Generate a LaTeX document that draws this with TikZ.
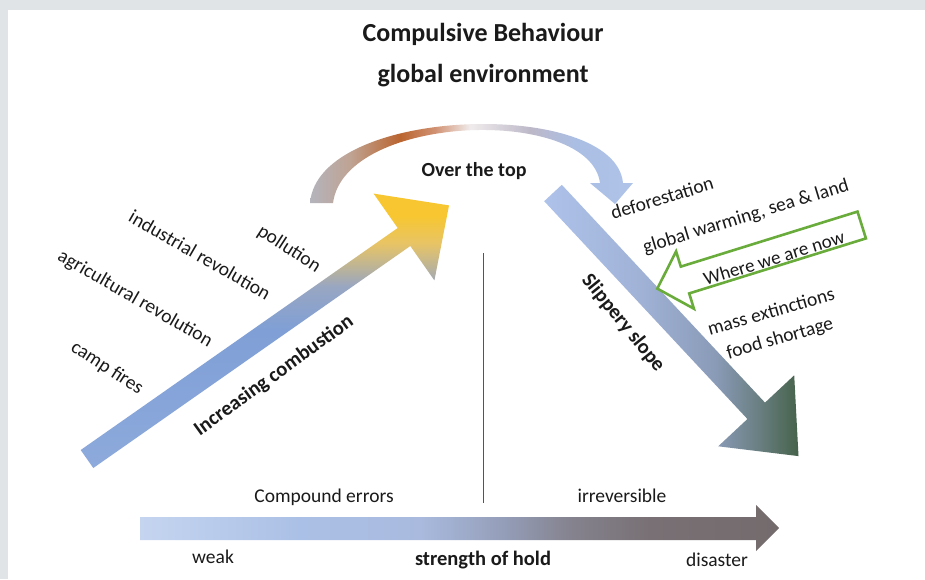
\documentclass[tikz,border=0pt]{standalone}
\usepackage{fontspec}
\setmainfont{Carlito}
\definecolor{bggray}{HTML}{E0E4E6}
\definecolor{txt}{HTML}{1A1A1A}
\definecolor{grn}{HTML}{6AAC3C}
\definecolor{vline}{HTML}{555555}
% rising arrow colours
\definecolor{rA}{HTML}{8EAADC}
\definecolor{rB}{HTML}{7F9FD6}
\definecolor{rC}{HTML}{98A6C2}
\definecolor{rD}{HTML}{E8C464}
\definecolor{rE}{HTML}{F7C630}
% arc colours
\definecolor{aA}{HTML}{B4B4BC}
\definecolor{aB}{HTML}{BFA393}
\definecolor{aC}{HTML}{BA6530}
\definecolor{aD}{HTML}{D09070}
\definecolor{aE}{HTML}{F0ECEC}
\definecolor{aF}{HTML}{BDB8C8}
\definecolor{aG}{HTML}{AABEE4}
\definecolor{aH}{HTML}{B0C4EA}
% slope colours
\definecolor{sA}{HTML}{AEC2EA}
\definecolor{sB}{HTML}{A0B2D6}
\definecolor{sC}{HTML}{8A9BB8}
\definecolor{sD}{HTML}{687E80}
\definecolor{sE}{HTML}{46624A}
% hold colours
\definecolor{hA}{HTML}{C5D5F0}
\definecolor{hB}{HTML}{ABC0E6}
\definecolor{hC}{HTML}{A9BADE}
\definecolor{hD}{HTML}{959FBA}
\definecolor{hE}{HTML}{85838F}
\definecolor{hF}{HTML}{787074}
\definecolor{hG}{HTML}{736B6C}
\pgfdeclareverticalshading{riseshade}{100bp}{color(0bp)=(rA); color(25bp)=(rA); color(50bp)=(rB); color(58bp)=(rC); color(66bp)=(rD); color(71bp)=(rE); color(100bp)=(rE)}
\pgfdeclarehorizontalshading{arcshade}{100bp}{color(0bp)=(aA); color(25bp)=(aA); color(31.2bp)=(aB); color(38.9bp)=(aC); color(44.3bp)=(aD); color(49.8bp)=(aE); color(59.1bp)=(aF); color(66bp)=(aG); color(75bp)=(aH); color(100bp)=(aH)}
\pgfdeclarehorizontalshading{slopeshade}{100bp}{color(0bp)=(sA); color(25bp)=(sA); color(43.9bp)=(sB); color(58.6bp)=(sC); color(67.4bp)=(sD); color(75bp)=(sE); color(100bp)=(sE)}
\pgfdeclarehorizontalshading{holdshade}{100bp}{color(0bp)=(hA); color(25bp)=(hA); color(37.5bp)=(hB); color(46.9bp)=(hC); color(53.2bp)=(hD); color(58.6bp)=(hE); color(64.9bp)=(hF); color(75bp)=(hG); color(100bp)=(hG)}
\tikzset{
  lbl/.style={inner sep=0pt, text=txt, font=\fontsize{19.5}{22}\selectfont},
  blbl/.style={inner sep=0pt, text=txt, font=\fontsize{20.5}{24}\selectfont\bfseries},
  toplbl/.style={inner sep=0pt, text=txt, font=\fontsize{20}{24}\selectfont\bfseries},
  ttl/.style={inner sep=0pt, text=txt, font=\fontsize{26}{30}\selectfont\bfseries},
  glbl/.style={inner sep=0pt, text=txt, font=\fontsize{19}{22}\selectfont},
  hollow/.style={draw=grn, line width=2.6pt, line join=miter},
}
\begin{document}
\begin{tikzpicture}[x=1pt,y=-1pt]
\useasboundingbox (0,0) rectangle (925,579);
\fill[bggray] (0,0) rectangle (925,579);
\fill[white] (8,10) rectangle (925,579);

% arc "over the top"
\shade[shading=arcshade] (310,203) .. controls (318,105) and (615,98) .. (623,183)
  -- (633,183) -- (615,204) -- (590,183) -- (600,183)
  .. controls (590,106) and (345,113) .. (333,203) -- cycle;

% rising arrow
\shade[shading=riseshade] (80.7,450) -- (397.7,228) -- (373.6,193.6) -- (449,205.4)
  -- (434.4,280.4) -- (410.3,246) -- (93.3,468) -- cycle;

% slippery slope arrow
\shade[shading=slopeshade] (561.8,184.8) -- (765,402.6) -- (794.2,375.3) -- (798.5,456.1)
  -- (718.2,446.3) -- (747.4,419) -- (544.2,201.2) -- cycle;

% strength of hold arrow
\shade[shading=holdshade] (140,517) -- (756,517) -- (756,505) -- (779,528)
  -- (756,551) -- (756,540) -- (140,540) -- cycle;

% where we are now
\draw[hollow] (657.3,288.6) -- (676.1,251.4) -- (680.8,266.6) -- (857.5,211.6)
  -- (865.9,238.4) -- (689.2,293.4) -- (693.9,308.7) -- cycle;

% divider
\coordinate (vtop) at (483,253);
\coordinate (vbot) at (483,503);
\draw[vline, line width=0.9pt] (vtop) -- (vbot);

% texts
\node[ttl] (t1) at (483,34) {Compulsive Behaviour};
\node[ttl] (t2) at (483,76) {global environment};
\node[toplbl] (top) at (474,171) {Over the top};
\node[lbl, rotate=-33] (pol) at (289,249) {pollution};
\node[lbl, rotate=-30] (ind) at (200,255) {industrial revolution};
\node[lbl, rotate=-30] (agr) at (135,299) {agricultural revolution};
\node[lbl, rotate=-33] (camp) at (107,368) {camp fires};
\node[blbl, rotate=36] (inc) at (274,376) {Increasing combustion};
\node[blbl, rotate=-51] (slip) at (623,323) {Slippery slope};
\node[lbl, rotate=17] (def) at (662,198) {deforestation};
\node[lbl, rotate=17] (glob) at (746,217) {global warming, sea \& land};
\node[glbl, rotate=17] (now) at (774,258) {Where we are now};
\node[lbl, rotate=16] (mass) at (771,311) {mass extinctions};
\node[lbl, rotate=16] (food) at (780,339) {food shortage};
\node[lbl] (comp) at (324,497) {Compound errors};
\node[lbl] (irr) at (622,496) {irreversible};
\node[lbl] (weak) at (213,557) {weak};
\node[blbl] (hold) at (483,560) {strength of hold};
\node[lbl] (dis) at (717,560) {disaster};
\end{tikzpicture}
\end{document}
